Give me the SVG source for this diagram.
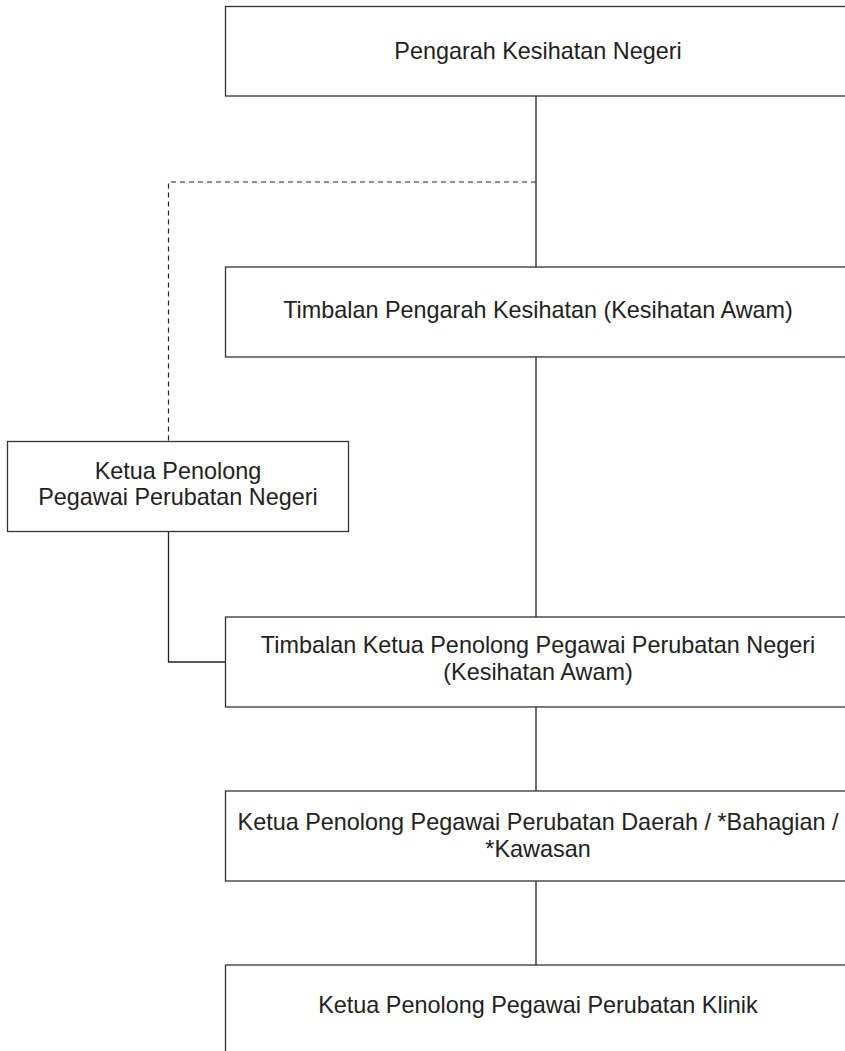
<svg xmlns="http://www.w3.org/2000/svg" width="845" height="1051" viewBox="0 0 845 1051">
<style>
.box{fill:#fff;stroke:#333;stroke-width:1.3}
.t{font-family:"Liberation Sans",Arial,sans-serif;font-size:23.4px;fill:#222;text-anchor:middle}
.c{fill:none;stroke:#222;stroke-width:1.3}
.d{fill:none;stroke:#222;stroke-width:1.2;stroke-dasharray:5 4}
</style>
<rect width="845" height="1051" fill="#fff"/>
<g id="connectors">
<line class="c" x1="536" y1="96" x2="536" y2="267"/>
<path class="d" d="M536 182 H168.5 V441"/>
<line class="c" x1="536" y1="357" x2="536" y2="617"/>
<path class="c" d="M168.5 532 V662 H225"/>
<line class="c" x1="536" y1="707" x2="536" y2="791"/>
<line class="c" x1="536" y1="881" x2="536" y2="965"/>
</g>
<g id="n1">
<rect class="box" x="225.5" y="6.5" width="640" height="89.5"/>
<text class="t" x="538" y="59">Pengarah Kesihatan Negeri</text>
</g>
<g id="n2">
<rect class="box" x="225.5" y="267" width="640" height="90"/>
<text class="t" x="538" y="318">Timbalan Pengarah Kesihatan (Kesihatan Awam)</text>
</g>
<g id="n3">
<rect class="box" x="7.5" y="441.5" width="341" height="90"/>
<text class="t" x="178" y="479">Ketua Penolong</text>
<text class="t" x="178" y="505">Pegawai Perubatan Negeri</text>
</g>
<g id="n4">
<rect class="box" x="225.5" y="617" width="640" height="90"/>
<text class="t" x="538" y="653">Timbalan Ketua Penolong Pegawai Perubatan Negeri</text>
<text class="t" x="538" y="680">(Kesihatan Awam)</text>
</g>
<g id="n5">
<rect class="box" x="225.5" y="791" width="640" height="90"/>
<text class="t" x="538" y="830">Ketua Penolong Pegawai Perubatan Daerah / *Bahagian /</text>
<text class="t" x="538" y="857">*Kawasan</text>
</g>
<g id="n6">
<rect class="box" x="225.5" y="965" width="640" height="120"/>
<text class="t" x="538" y="1013">Ketua Penolong Pegawai Perubatan Klinik</text>
</g>
</svg>
